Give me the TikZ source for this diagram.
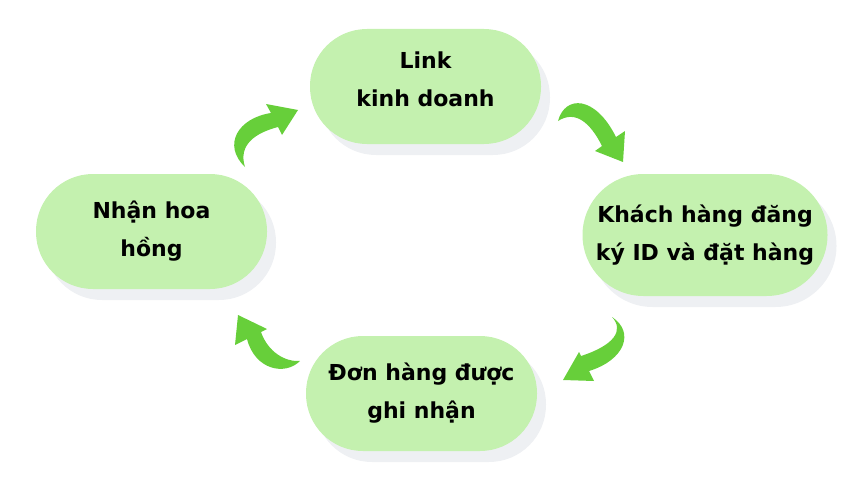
\documentclass[tikz,border=0pt]{standalone}
\usepackage{fontspec}
\setmainfont{DejaVu Sans}
\usepackage{xcolor}
\usetikzlibrary{shadows}
\definecolor{leafgreen}{HTML}{C4F1AF}
\definecolor{arrowgreen}{HTML}{67CF3A}
\definecolor{shadowgrey}{HTML}{EEF0F3}

\begin{document}
\begin{tikzpicture}[x=1pt,y=-1pt,
        box/.style={fill=leafgreen, rounded corners=57pt, minimum width=231pt, minimum height=115pt,
            align=center, font=\fontsize{22}{38}\selectfont\bfseries,
            general shadow={fill=shadowgrey, shadow xshift=9pt, shadow yshift=-11pt}}]
        \useasboundingbox (0,0) rectangle (861,503);
        %\draw[gray] (0,0) grid[step=50] (861,503);

        \node[box, text depth=14pt] (link) at (425.5,86.5) {Link\\kinh doanh};
        \node[box, minimum width=245pt, minimum height=122pt, rounded corners=61pt] (khach) at (705,235) {Khách hàng đăng\\ký ID và đặt hàng};
        \node[box] (don) at (421.5,393.5) {Đơn hàng được\\ghi nhận};
        \node[box] (nhan) at (151.5,231.5) {Nhận hoa\\hồng};

        % curved arrows, tail .. head
        \fill[arrowgreen] (558,121) .. controls (565,95) and (595,95) .. (616,137) -- (625,131) -- (623,162) -- (595,151) -- (602,146) .. controls (590,122) and (575,110) .. cycle;
        \fill[arrowgreen] (612,317) .. controls (635,332) and (625,360) .. (589,371) -- (594,381) -- (563,380) -- (579,352) -- (581,356) .. controls (615,345) and (624,330) .. cycle;
        \fill[arrowgreen] (300,361) .. controls (285,376) and (255,370) .. (247,339) -- (235,345) -- (238,315) -- (267,329) -- (261,332) .. controls (268,352) and (285,362) .. cycle;
        \fill[arrowgreen] (245,167) .. controls (222,145) and (238,118) .. (271,113) -- (266,104) -- (298,110) -- (282,135) -- (278,127) .. controls (255,133) and (238,145) .. cycle;
    \end{tikzpicture}
\end{document}
